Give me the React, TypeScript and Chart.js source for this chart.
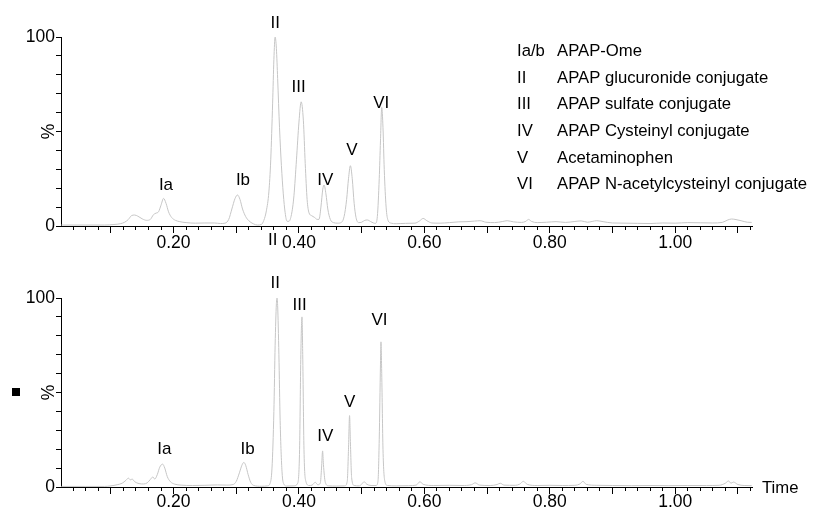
import React, { useEffect, useRef } from "react";
import { Chart, registerables } from "chart.js";

Chart.register(...registerables);

// ---------- data ----------
const X_MIN = 0.0205;
const X_MAX = 1.1225;

const MAJOR_X_TICKS = [0.1, 0.2, 0.3, 0.4, 0.5, 0.6, 0.7, 0.8, 0.9, 1.0, 1.1];
const LABELED_X_TICKS = [0.2, 0.4, 0.6, 0.8, 1.0];
const MINOR_X_TICKS = [
  0.04, 0.06, 0.08, 0.1, 0.12, 0.14, 0.16, 0.18, 0.2, 0.22, 0.24, 0.26, 0.28,
  0.3, 0.32, 0.34, 0.36, 0.38, 0.4, 0.42, 0.44, 0.46, 0.48, 0.5, 0.52, 0.54,
  0.56, 0.58, 0.6, 0.62, 0.64, 0.66, 0.68, 0.7, 0.72, 0.74, 0.76, 0.78, 0.8,
  0.82, 0.84, 0.86, 0.88, 0.9, 0.92, 0.94, 0.96, 0.98, 1.0, 1.02, 1.04, 1.06,
  1.08, 1.1, 1.12,
];
const Y_TICKS = [0, 10, 20, 30, 40, 50, 60, 70, 80, 90, 100];
const Y_LABELED = [0, 100];

const TOP_TIME = [
  0.021, 0.06, 0.09, 0.105, 0.115, 0.122, 0.128, 0.133, 0.138, 0.143, 0.15,
  0.157, 0.163, 0.168, 0.172, 0.176, 0.18, 0.184, 0.188, 0.192, 0.197, 0.203,
  0.21, 0.22, 0.235, 0.25, 0.265, 0.275, 0.282, 0.288, 0.293, 0.298, 0.302,
  0.306, 0.31, 0.315, 0.32, 0.327, 0.334, 0.34, 0.344, 0.348, 0.352, 0.355,
  0.358, 0.36, 0.362, 0.364, 0.366, 0.369, 0.372, 0.375, 0.378, 0.381, 0.384,
  0.388, 0.392, 0.396, 0.4, 0.4035, 0.407, 0.41, 0.413, 0.416, 0.42, 0.425,
  0.429, 0.432, 0.435, 0.438, 0.44, 0.443, 0.446, 0.45, 0.455, 0.462, 0.468,
  0.472, 0.476, 0.479, 0.482, 0.485, 0.488, 0.491, 0.495, 0.5, 0.505, 0.509,
  0.514, 0.519, 0.522, 0.525, 0.528, 0.53, 0.532, 0.534, 0.536, 0.539, 0.542,
  0.547, 0.555, 0.57, 0.585, 0.592, 0.598, 0.604, 0.612, 0.625, 0.64, 0.655,
  0.668, 0.68, 0.689, 0.698, 0.712, 0.725, 0.732, 0.742, 0.755, 0.762, 0.766,
  0.771, 0.78, 0.795, 0.81, 0.825, 0.84, 0.85, 0.86, 0.875, 0.885, 0.9, 0.92,
  0.94, 0.96, 0.98, 1.0, 1.02, 1.04, 1.06, 1.075, 1.084, 1.09, 1.097, 1.105,
  1.115, 1.122,
];
const TOP_PCT = [
  0.5, 0.5, 0.5, 0.8, 1.2, 2.0, 3.5, 5.5, 5.8, 5.2, 3.8,
  3.0, 3.5, 6.0, 6.8, 7.5, 11.0, 14.6, 12.0, 7.5, 4.5, 3.0,
  2.3, 1.8, 1.5, 1.6, 1.6, 1.3, 1.5, 3.5, 9.0, 14.5, 16.4,
  14.0, 9.0, 5.0, 2.8, 1.2, 0.5, 0.8, 3.0, 8.0, 18.0, 35.0,
  65.0, 88.0, 100, 94.0, 78.0, 52.0, 32.0, 17.0, 7.0, 2.5, 2.5,
  6.0, 16.0, 35.0, 55.0, 65.7, 56.0, 33.0, 14.0, 7.0, 5.5, 4.5,
  3.5, 3.5, 10.0, 19.5, 21.7, 17.0, 9.0, 3.5, 1.8, 1.5, 2.0,
  5.0, 14.0, 25.0, 31.9, 25.0, 12.0, 4.5, 1.8, 2.0, 3.0, 3.2,
  2.4, 1.6, 1.4, 5.0, 25.0, 45.0, 62.7, 52.0, 30.0, 10.0, 3.0,
  1.5, 1.2, 1.4, 1.5, 2.6, 4.0, 2.8, 1.6, 1.5, 1.8, 2.2,
  2.3, 2.6, 2.8, 2.0, 1.8, 2.4, 2.8, 2.2, 1.9, 2.5, 3.5,
  2.4, 1.8, 2.0, 2.3, 1.9, 2.4, 2.7, 2.0, 2.8, 2.3, 1.6, 1.5,
  1.4, 1.3, 1.6, 1.5, 1.8, 1.7, 1.6, 1.9, 3.2, 3.7, 3.4, 2.8,
  2.0, 1.9,
];

const BOT_TIME = [
  0.021, 0.06, 0.09, 0.1, 0.11, 0.118, 0.124, 0.128, 0.131, 0.134, 0.138,
  0.145, 0.152, 0.158, 0.163, 0.167, 0.17, 0.174, 0.178, 0.1825, 0.186, 0.19,
  0.195, 0.202, 0.212, 0.23, 0.25, 0.27, 0.285, 0.295, 0.3, 0.305, 0.309,
  0.312, 0.315, 0.319, 0.323, 0.328, 0.34, 0.35, 0.354, 0.357, 0.36, 0.362,
  0.364, 0.365, 0.366, 0.368, 0.37, 0.373, 0.376, 0.38, 0.392, 0.398, 0.401,
  0.403, 0.4048, 0.406, 0.408, 0.411, 0.416, 0.421, 0.426, 0.43, 0.434, 0.436,
  0.4377, 0.439, 0.442, 0.447, 0.46, 0.473, 0.477, 0.479, 0.4807, 0.482, 0.484,
  0.488, 0.496, 0.5, 0.504, 0.508, 0.515, 0.523, 0.526, 0.528, 0.53, 0.5308,
  0.532, 0.534, 0.537, 0.541, 0.555, 0.575, 0.587, 0.593, 0.598, 0.615, 0.64,
  0.66, 0.675, 0.681, 0.688, 0.705, 0.716, 0.721, 0.727, 0.745, 0.752, 0.758,
  0.764, 0.78, 0.8, 0.82, 0.84, 0.848, 0.853, 0.858, 0.875, 0.9, 0.93, 0.96,
  0.99, 1.02, 1.05, 1.07, 1.08, 1.085, 1.089, 1.093, 1.1, 1.11, 1.122,
];
const BOT_PCT = [
  0.3, 0.3, 0.3, 0.6, 1.2, 2.0, 3.5, 4.7, 3.8, 4.2, 2.8,
  1.8, 1.6, 2.2, 4.0, 5.3, 4.2, 6.5, 10.5, 12.1, 10.0, 5.5,
  2.8, 1.5, 1.0, 0.8, 0.9, 1.1, 1.0, 1.3, 3.0, 7.5, 11.5,
  13.0, 11.5, 6.5, 2.5, 0.8, 0.4, 0.6, 2.0, 10.0, 40.0, 75.0,
  97.0, 100, 96.0, 70.0, 35.0, 8.0, 1.5, 0.5, 0.6, 2.0, 20.0,
  70.0, 90.0, 70.0, 20.0, 3.0, 0.8, 1.0, 2.5, 1.2, 2.0, 10.0,
  19.1, 12.0, 2.5, 0.6, 0.5, 0.6, 3.0, 20.0, 37.8, 24.0, 5.0,
  0.8, 0.6, 1.5, 2.8, 1.5, 0.8, 0.8, 3.0, 25.0, 65.0, 76.8,
  60.0, 20.0, 3.0, 0.8, 0.6, 0.7, 1.0, 2.8, 1.4, 0.8, 0.9,
  0.8, 1.2, 2.2, 1.0, 0.8, 1.3, 2.0, 1.0, 0.9, 1.5, 3.0,
  1.4, 0.8, 0.9, 0.8, 0.9, 1.6, 3.0, 1.4, 0.9, 0.8, 0.7, 0.8,
  0.7, 0.8, 0.8, 0.9, 2.0, 3.2, 2.0, 2.6, 1.3, 0.8, 0.7,
];

// peak labels: text, time, intensity (%)
const TOP_PEAK_TEXT = ["Ia", "Ib", "II", "III", "IV", "V", "VI", "II"];
const TOP_PEAK_TIME = [0.1879, 0.3107, 0.3622, 0.3994, 0.4419, 0.4845, 0.5313, 0.3582];
const TOP_PEAK_PCT = [21.7, 24.3, 107.4, 73.3, 24.3, 40.1, 65.1, -7.4];

const BOT_PEAK_TEXT = ["Ia", "Ib", "II", "III", "IV", "V", "VI"];
const BOT_PEAK_TIME = [0.1852, 0.318, 0.3622, 0.401, 0.4419, 0.4807, 0.5285];
const BOT_PEAK_PCT = [19.7, 19.7, 107.9, 96.2, 26.7, 44.6, 88.2];

const LEGEND_CODES = ["Ia/b", "II", "III", "IV", "V", "VI"];
const LEGEND_NAMES = [
  "APAP-Ome",
  "APAP glucuronide conjugate",
  "APAP sulfate conjugate",
  "APAP Cysteinyl conjugate",
  "Acetaminophen",
  "APAP N-acetylcysteinyl conjugate",
];

const X_AXIS_TITLE = "Time";
const Y_AXIS_TITLE = "%";

// ---------- styles ----------
const FONT = "'Liberation Sans', Arial, sans-serif";
const LINE_COLOR = "#c6c6c6";

function zeroPad(s: any) {
  s.paddingLeft = 0;
  s.paddingRight = 0;
  s.paddingTop = 0;
  s.paddingBottom = 0;
}

function buildConfig(opts: {
  times: number[];
  pcts: number[];
  padTop: number;
  padBottom: number;
  xAxisHeight: number;
  xLabelPad: number;
  peakText: string[];
  peakTime: number[];
  peakPct: number[];
  showLegend: boolean;
  showTime: boolean;
}): any {
  const points = opts.times.map((t, i) => ({ x: t, y: opts.pcts[i] }));
  const annot = {
    id: "annot",
    afterDraw(chart: any) {
      const ctx = chart.ctx;
      const xs = chart.scales.x;
      const ys = chart.scales.y;
      ctx.save();
      ctx.fillStyle = "#000";
      ctx.textBaseline = "middle";
      ctx.textAlign = "center";
      ctx.font = `17px ${FONT}`;
      opts.peakText.forEach((txt, i) => {
        ctx.fillText(
          txt,
          xs.getPixelForValue(opts.peakTime[i]),
          ys.getPixelForValue(opts.peakPct[i])
        );
      });
      if (opts.showLegend) {
        ctx.textAlign = "left";
        ctx.font = `16.7px ${FONT}`;
        LEGEND_CODES.forEach((c, i) => {
          const y = 51.2 + i * 26.7;
          ctx.fillText(c, 517, y);
          ctx.fillText(LEGEND_NAMES[i], 557, y);
        });
      }
      if (opts.showTime) {
        ctx.textAlign = "left";
        ctx.font = `16.7px ${FONT}`;
        ctx.fillText(X_AXIS_TITLE, chart.chartArea.right + 10, chart.chartArea.bottom + 1);
      }
      ctx.restore();
    },
  };

  return {
    type: "line",
    data: {
      datasets: [
        {
          data: points,
          xAxisID: "x",
          yAxisID: "y",
          borderColor: LINE_COLOR,
          borderWidth: 1,
          pointRadius: 0,
          fill: false,
          cubicInterpolationMode: "monotone",
        },
      ],
    },
    options: {
      responsive: false,
      animation: false,
      devicePixelRatio: 1,
      events: [],
      layout: {
        padding: { top: opts.padTop, bottom: opts.padBottom, left: 0, right: 62 },
      },
      plugins: {
        legend: { display: false },
        tooltip: { enabled: false },
        title: { display: false },
      },
      scales: {
        xMinor: {
          type: "linear",
          position: "bottom",
          weight: 0,
          min: X_MIN,
          max: X_MAX,
          bounds: "data",
          afterBuildTicks: (s: any) => {
            s.ticks = MINOR_X_TICKS.map((v) => ({ value: v }));
          },
          afterFit: (s: any) => {
            s.height = 0;
            zeroPad(s);
          },
          ticks: { display: false, autoSkip: false },
          grid: {
            drawOnChartArea: false,
            tickLength: 4,
            color: "#000",
            tickColor: "#000",
            lineWidth: 1,
          },
          border: { display: false },
        },
        x: {
          type: "linear",
          position: "bottom",
          weight: 1,
          min: X_MIN,
          max: X_MAX,
          bounds: "data",
          afterBuildTicks: (s: any) => {
            s.ticks = MAJOR_X_TICKS.map((v) => ({ value: v }));
          },
          afterFit: (s: any) => {
            s.height = opts.xAxisHeight;
            zeroPad(s);
          },
          ticks: {
            autoSkip: false,
            maxRotation: 0,
            minRotation: 0,
            padding: opts.xLabelPad,
            color: "#000",
            font: { family: FONT, size: 17.5 },
            callback: (v: number) =>
              LABELED_X_TICKS.some((l) => Math.abs(l - v) < 1e-6) ? v.toFixed(2) : "",
          },
          grid: {
            drawOnChartArea: false,
            tickLength: 7,
            color: "#000",
            tickColor: "#000",
            lineWidth: 1,
          },
          border: { display: true, color: "#000", width: 1 },
        },
        y: {
          type: "linear",
          position: "left",
          min: 0,
          max: 100,
          bounds: "data",
          afterBuildTicks: (s: any) => {
            s.ticks = Y_TICKS.map((v) => ({ value: v }));
          },
          afterFit: (s: any) => {
            s.width = 61;
            zeroPad(s);
          },
          ticks: {
            autoSkip: false,
            padding: 1,
            color: "#000",
            font: { family: FONT, size: 17.5 },
            callback: (v: number) => (Y_LABELED.includes(v) ? String(v) : ""),
          },
          grid: {
            drawOnChartArea: false,
            tickLength: 5,
            color: "#000",
            tickColor: "#000",
            lineWidth: 1,
          },
          border: { display: true, color: "#000", width: 1 },
          title: {
            display: true,
            text: Y_AXIS_TITLE,
            color: "#000",
            font: { family: FONT, size: 17.5 },
            padding: { top: 39, bottom: 0 },
          },
        },
      },
    },
    plugins: [annot],
  };
}

export default function App() {
  const topRef = useRef<HTMLCanvasElement>(null);
  const botRef = useRef<HTMLCanvasElement>(null);

  useEffect(() => {
    const top = new Chart(
      topRef.current as HTMLCanvasElement,
      buildConfig({
        times: TOP_TIME,
        pcts: TOP_PCT,
        padTop: 37,
        padBottom: 255,
        xAxisHeight: 29,
        xLabelPad: 0,
        peakText: TOP_PEAK_TEXT,
        peakTime: TOP_PEAK_TIME,
        peakPct: TOP_PEAK_PCT,
        showLegend: true,
        showTime: false,
      })
    );
    const bot = new Chart(
      botRef.current as HTMLCanvasElement,
      buildConfig({
        times: BOT_TIME,
        pcts: BOT_PCT,
        padTop: 298,
        padBottom: 0,
        xAxisHeight: 23,
        xLabelPad: -2.7,
        peakText: BOT_PEAK_TEXT,
        peakTime: BOT_PEAK_TIME,
        peakPct: BOT_PEAK_PCT,
        showLegend: false,
        showTime: true,
      })
    );
    return () => {
      top.destroy();
      bot.destroy();
    };
  }, []);

  return (
    <div
      style={{
        position: "fixed",
        left: 0,
        top: 0,
        width: 814,
        height: 510,
        background: "#fff",
        overflow: "hidden",
      }}
    >
      <canvas
        ref={topRef}
        width={814}
        height={510}
        style={{ position: "absolute", left: 0, top: 0 }}
      />
      <canvas
        ref={botRef}
        width={814}
        height={510}
        style={{ position: "absolute", left: 0, top: 0 }}
      />
      <div
        style={{
          position: "absolute",
          left: 12,
          top: 388,
          width: 8,
          height: 8,
          background: "#000",
        }}
      />
    </div>
  );
}
